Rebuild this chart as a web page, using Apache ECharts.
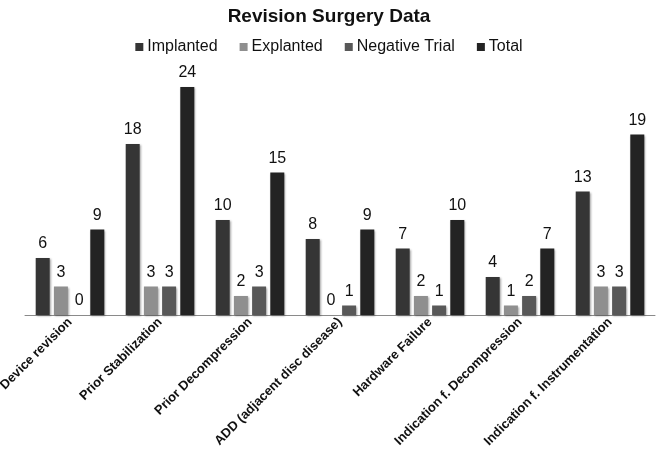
<!DOCTYPE html>
<html><head><meta charset="utf-8">
<script src="https://cdn.jsdelivr.net/npm/echarts@6/dist/echarts.min.js"></script>
<style>html,body{margin:0;padding:0;background:#fff}#c{width:658px;height:457px}</style>
</head><body><div id="c"></div>
<script>
const categories = ["Device revision","Prior Stabilization","Prior Decompression","ADD (adjacent disc disease)","Hardware Failure","Indication f. Decompression","Indication f. Instrumentation"];
const implanted = [6,18,10,8,7,4,13];
const explanted = [3,3,2,0,2,1,3];
const negativeTrial = [0,3,3,1,1,2,3];
const total = [9,24,15,9,10,7,19];
const seriesNames = ["Implanted","Explanted","Negative Trial","Total"];
const colors = ["#353535","#8f8f8f","#585858","#232323"];

const dataSets = [implanted, explanted, negativeTrial, total];
const chart = echarts.init(document.getElementById('c'));
chart.setOption({
  animation:false,
  color: colors,
  title:{text:"Revision Surgery Data",left:'center',top:2,textStyle:{fontFamily:'Liberation Sans, Arial',fontWeight:'bold',fontSize:19,color:'#111'}},
  legend:{top:34,left:'center',itemWidth:8,itemHeight:8,itemGap:22,icon:'rect',
    textStyle:{fontFamily:'Liberation Sans, Arial',fontSize:16,color:'#111',padding:[0,0,0,-1]},data:seriesNames},
  grid:{left:25,right:3,top:87,bottom:142,containLabel:false,outerBoundsMode:'none'},
  xAxis:{type:'category',data:categories,
    axisLine:{lineStyle:{color:'#8a8a8a',width:1}},axisTick:{show:false},
    axisLabel:{rotate:45,interval:0,margin:5,fontFamily:'Liberation Sans, Arial',fontWeight:'bold',fontSize:13,color:'#111'}},
  yAxis:{type:'value',min:0,max:24,show:false,splitLine:{show:false}},
  series: seriesNames.map((n,i)=>({
    name:n,type:'bar',data:dataSets[i],barWidth:14,barGap:'30%',
    itemStyle:{color:colors[i],shadowBlur:2,shadowColor:'rgba(0,0,0,0.35)',shadowOffsetX:1,shadowOffsetY:1},
    label:{show:true,position:'top',distance:6,fontFamily:'Liberation Sans, Arial',fontSize:16,color:'#111'}
  }))
});
</script></body></html>
